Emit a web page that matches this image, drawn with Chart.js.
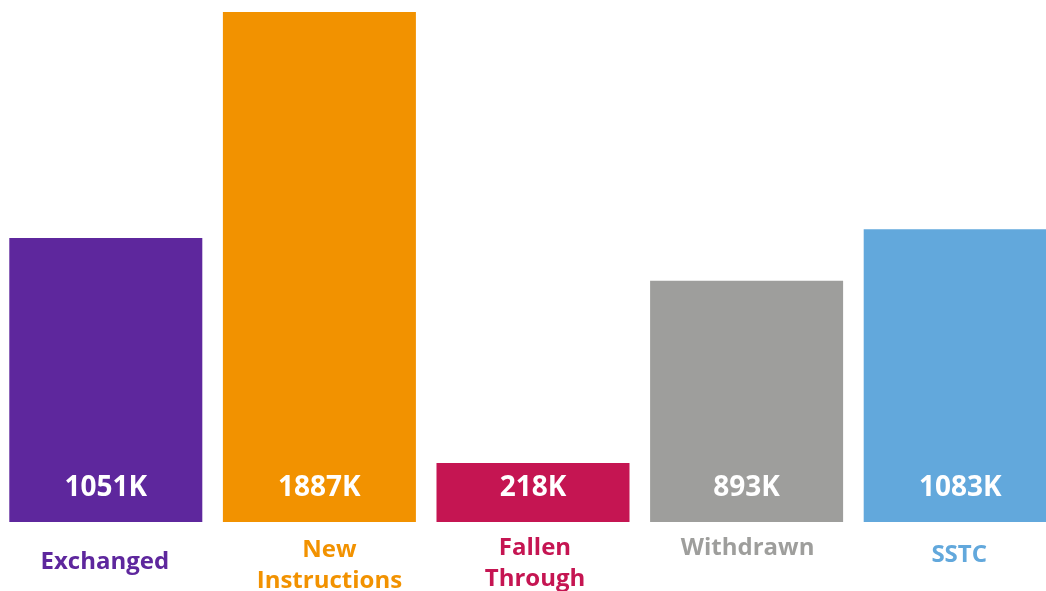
<!DOCTYPE html>
<html>
<head>
<meta charset="utf-8">
<title>Sales pipeline</title>
<script src="https://cdn.jsdelivr.net/npm/chart.js@4/dist/chart.umd.min.js"></script>
<style>
    html, body { margin: 0; padding: 0; background: #fff; overflow: hidden; }
    body { width: 1046px; height: 591px; position: relative; }
    #grafico { position: absolute; left: -1px; top: 0; }
</style>
</head>
<body>
<canvas id="grafico" width="1068" height="591"></canvas>
<script>
// ==========================
// Datos
// ==========================

const categorias = ['Exchanged', 'New Instructions', 'Fallen Through', 'Withdrawn', 'SSTC'];
const etiquetas = [['Exchanged'], ['New', 'Instructions'], ['Fallen', 'Through'], ['Withdrawn'], ['SSTC']];
const valores = [1051, 1887, 218, 893, 1083]; // miles
const colores = ['#5e279d', '#f29200', '#c51552', '#9e9e9c', '#62a8dc'];

// ajuste fino de cada etiqueta bajo la barra (dx, y centro primera línea)
const posEtiquetas = [[-1, 562], [10, 550], [2, 548], [1, 548], [-1, 555]];

const FUENTE = '"Open Sans", "Noto Sans", sans-serif';

// ==========================
// Plugin de textos
// ==========================

const textos = {
    id: 'textos',
    afterDatasetsDraw(chart) {
        const ctx = chart.ctx;
        const meta = chart.getDatasetMeta(0);
        const xScale = chart.scales.x;
        const yScale = chart.scales.y;

        ctx.save();
        ctx.textAlign = 'center';
        ctx.textBaseline = 'middle';

        // valor dentro de la barra
        ctx.font = `bold 28px ${FUENTE}`;
        ctx.fillStyle = '#ffffff';
        meta.data.forEach((bar, i) => {
            ctx.fillText(valores[i] + 'K', bar.x, yScale.getPixelForValue(0) - 34);
        });

        // nombre de la categoría debajo
        ctx.font = `bold 24px ${FUENTE}`;
        etiquetas.forEach((lineas, i) => {
            const x = xScale.getPixelForValue(i) + posEtiquetas[i][0];
            ctx.fillStyle = colores[i];
            lineas.forEach((l, j) => {
                ctx.fillText(l, x, posEtiquetas[i][1] + j * 31);
            });
        });
        ctx.restore();
    }
};

// ==========================
// Gráfico
// ==========================

new Chart(document.getElementById('grafico'), {
    type: 'bar',
    data: {
        labels: categorias,
        datasets: [{
            data: valores,
            backgroundColor: colores,
            borderWidth: 0,
            barPercentage: 0.9036,
            categoryPercentage: 1
        }]
    },
    options: {
        responsive: false,
        animation: false,
        devicePixelRatio: 1,
        layout: { padding: { top: 0, bottom: 69, left: 0, right: 0 } },
        plugins: {
            legend: { display: false },
            tooltip: { enabled: false }
        },
        scales: {
            x: { display: false },
            y: { display: false, min: 0, max: 1931.4 }
        }
    },
    plugins: [textos]
});
</script>
</body>
</html>
